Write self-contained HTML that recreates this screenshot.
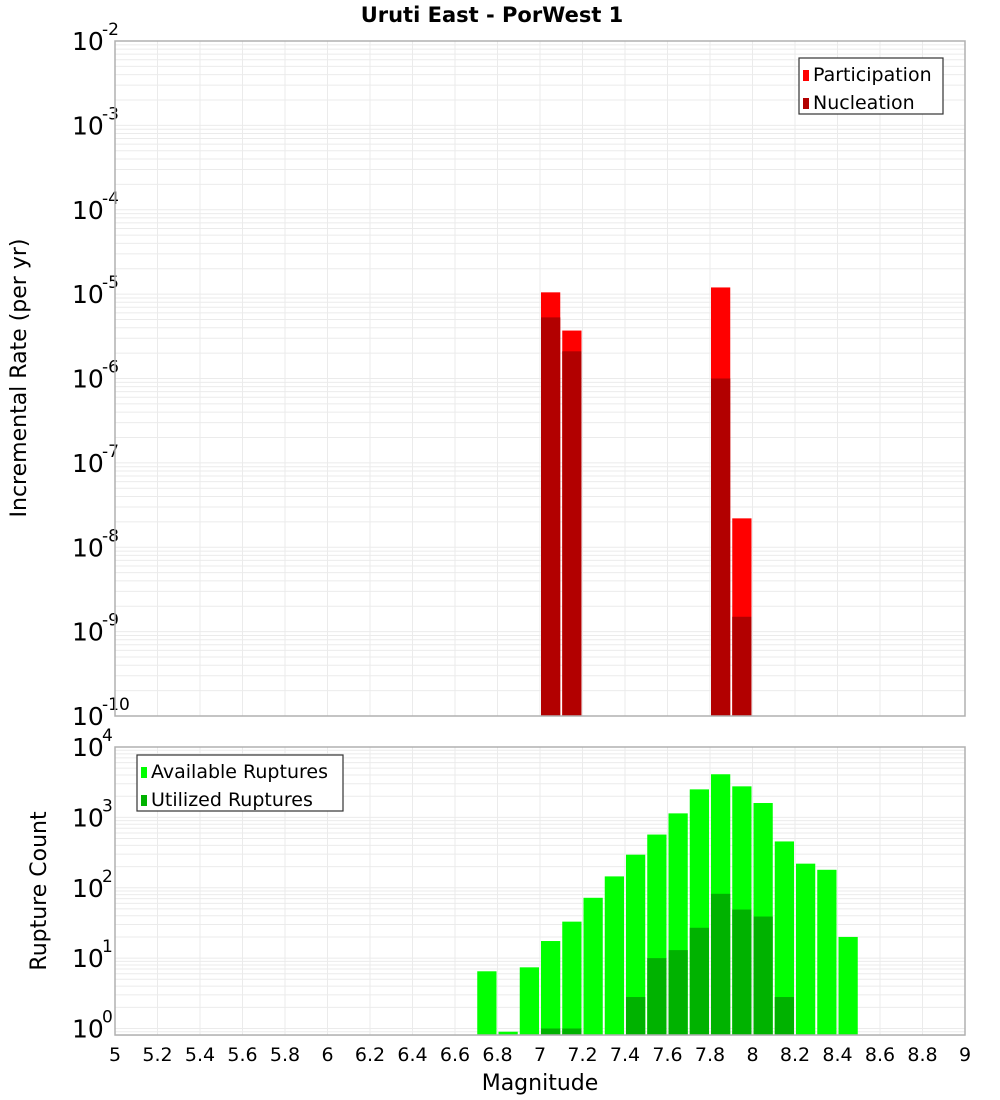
<!DOCTYPE html>
<html><head><meta charset="utf-8"><style>
body{margin:0;background:#fff;}
svg{display:block;font-family:"DejaVu Sans","Liberation Sans",sans-serif;}
</style></head><body>
<svg id="c" width="1000" height="1100" xmlns="http://www.w3.org/2000/svg">
<text x="492" y="22" font-size="21" font-weight="bold" text-anchor="middle">Uruti East - PorWest 1</text>
<text transform="translate(26,378) rotate(-90)" font-size="22" text-anchor="middle">Incremental Rate (per yr)</text>
<text transform="translate(46,891) rotate(-90)" font-size="22" text-anchor="middle">Rupture Count</text>
<text x="540" y="1090" font-size="22" text-anchor="middle">Magnitude</text>
<g id="top"></g><g id="bot"></g>
</svg>
<script>
// Top panel data
const topMags = [7.05, 7.15, 7.85, 7.95];
const participation = [1.05e-5, 3.7e-6, 1.2e-5, 2.2e-8];
const nucleation = [5.3e-6, 2.1e-6, 1.0e-6, 1.5e-9];
// Bottom panel data
const botMags = [6.75,6.85,6.95,7.05,7.15,7.25,7.35,7.45,7.55,7.65,7.75,7.85,7.95,8.05,8.15,8.25,8.35,8.45];
const available = [6.5,0.9,7.4,17.5,33,72,145,295,570,1140,2500,4100,2760,1600,455,220,180,20];
const utilMags = [7.05,7.15,7.45,7.55,7.65,7.75,7.85,7.95,8.05,8.15];
const utilized = [1,1,2.8,10,13,27,82,49,39,2.8];
const xTicks = [5,5.2,5.4,5.6,5.8,6,6.2,6.4,6.6,6.8,7,7.2,7.4,7.6,7.8,8,8.2,8.4,8.6,8.8,9];

const NS="http://www.w3.org/2000/svg";
const X0=115,X1=965;
const x = m => X0 + (m-5)/4*(X1-X0);
function mk(tag, attrs, parent){const e=document.createElementNS(NS,tag);for(const k in attrs)e.setAttribute(k,attrs[k]);parent.appendChild(e);return e;}

function panel(g, top, bottom, yAt, dMin, dMax, name){
  // gridlines
  for(let d=dMin-1; d<=dMax; d++){
    for(let k=1;k<=9;k++){
      const y=yAt(Math.pow(10,d)*k);
      if(y<top-0.5||y>bottom+0.5) continue;
      const l=mk('line',{x1:X0,x2:X1,y1:y,y2:y,stroke:'#ebebeb','stroke-width':1},g);
      
      
    }
  }
  xTicks.forEach(t=>{
    const l=mk('line',{x1:x(t),x2:x(t),y1:top,y2:bottom,stroke:'#ebebeb','stroke-width':1},g);
    
    
  });
  // y labels
  for(let d=dMin; d<=dMax; d++){
    const y=yAt(Math.pow(10,d));
    const t=mk('text',{x:72,y:y+9,'font-size':25},g);
    
    
    t.textContent='10';
    const s=mk('text',{x:102,y:y-6,'font-size':17},g);
    
    
    s.textContent=String(d);
  }
}

function bars(g, mags, vals, yAt, bottom, color, name){
  mags.forEach((m,i)=>{
    const y=Math.max(yAt(vals[i]), 0);
    const r=mk('rect',{x:x(m-0.05)+1,y:y,width:(X1-X0)/40-2,height:Math.max(0,bottom-y),fill:color},g);
    
    
  });
}

function frame(g, top, bottom, name){
  const r=mk('rect',{x:X0,y:top,width:X1-X0,height:bottom-top,fill:'none',stroke:'#b0b0b0','stroke-width':1.5},g);
  
  
}

function legend(g, lx, ly, w, items, name){
  const r=mk('rect',{x:lx,y:ly,width:w,height:56,fill:'#fff',stroke:'#333','stroke-width':1.2},g);
  
  
  items.forEach((it,i)=>{
    const sw=mk('rect',{x:lx+4,y:ly+12+i*28,width:6,height:11,fill:it[1]},g);
    
    
    const t=mk('text',{x:lx+14,y:ly+23+i*28,'font-size':19},g);
    
    
    t.textContent=it[0];
  });
}

// top
const gT=document.getElementById('top');
const T0=41,T1=716;
const yT = v => T0 + (-2 - Math.log10(v))*(T1-T0)/8;
panel(gT,T0,T1,yT,-10,-2,'top');
bars(gT,topMags,participation,yT,T1,'#ff0000','participation');
bars(gT,topMags,nucleation,yT,T1,'#b20000','nucleation');
frame(gT,T0,T1,'top');
legend(gT,799,58,144,[['Participation','#ff0000'],['Nucleation','#b20000']],'top');

// bottom
const gB=document.getElementById('bot');
const B0=747,B1=1035;
const yB = v => B0 + (4 - Math.log10(v))*(1028.5-747)/4;
panel(gB,B0,B1,yB,0,4,'bottom');
bars(gB,botMags,available,yB,B1,'#00ff00','available');
bars(gB,utilMags,utilized,yB,B1,'#00b200','utilized');
frame(gB,B0,B1,'bottom');
legend(gB,137,755,206,[['Available Ruptures','#00ff00'],['Utilized Ruptures','#00b200']],'bottom');

// x tick labels
xTicks.forEach(t=>{
  const e=mk('text',{x:x(t),y:1061,'font-size':19,'text-anchor':'middle'},gB);
  
  
  e.textContent=String(t);
});
</script>
</body></html>
